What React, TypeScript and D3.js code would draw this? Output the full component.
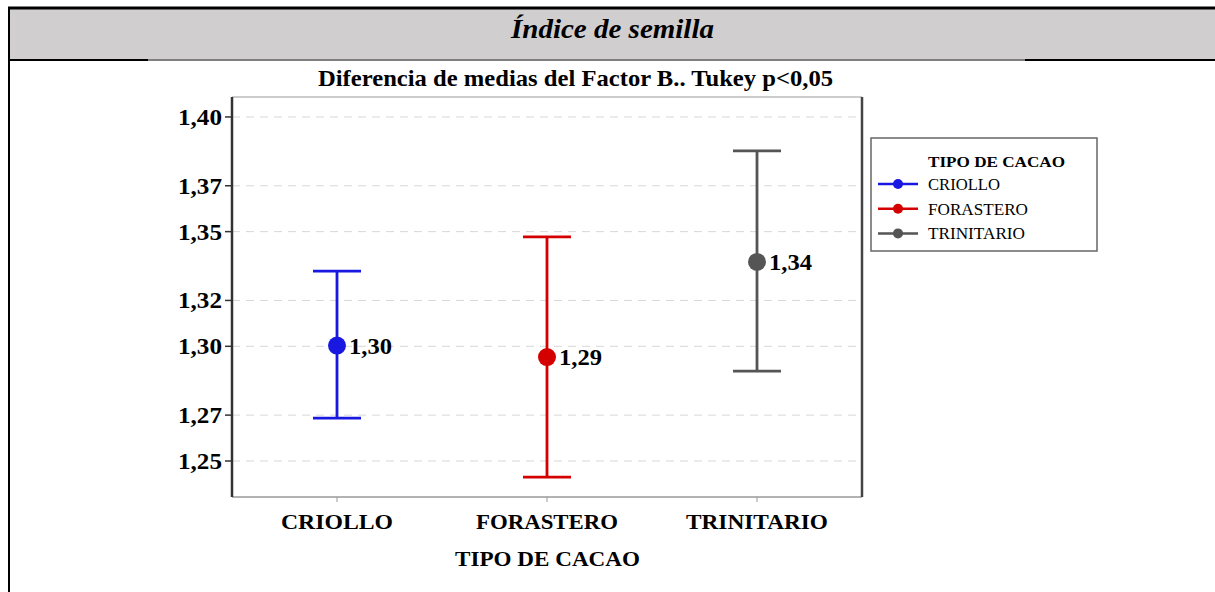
import React from "react";
import * as d3 from "d3";

const categories = ["CRIOLLO", "FORASTERO", "TRINITARIO"];
const means = [1.3003, 1.2953, 1.3368];
const lowers = [1.2687, 1.2430, 1.2892];
const uppers = [1.3328, 1.3477, 1.3852];
const meanLabels = ["1,30", "1,29", "1,34"];
const yTicks = [1.25, 1.27, 1.30, 1.32, 1.35, 1.37, 1.40];
const yTickLabels = ["1,25", "1,27", "1,30", "1,32", "1,35", "1,37", "1,40"];
const colors = ["#1818e0", "#d40000", "#555555"];

const W = 1215, H = 592;
const plot = { left: 232, right: 862, top: 97, bottom: 497 };
const serif = "'Liberation Serif', 'Times New Roman', serif";
const xLabelWidths = [112, 142, 142];
const legendWidths = [72, 100, 97];

export default function App() {
  const x = d3.scalePoint<string>().domain(categories).range([plot.left, plot.right]).padding(0.5);
  const y = d3.scaleLinear().domain([1.2343, 1.4087]).range([plot.bottom, plot.top]);
  const cap = 24;
  return (
    <svg width={W} height={H} style={{ position: "absolute", left: 0, top: 0, background: "#fff" }} fontFamily={serif}>
      {/* header */}
      <rect x={9} y={9} width={W - 9} height={50} fill="#d0cece" />
      <line x1={8} x2={W} y1={8} y2={8} stroke="#000" strokeWidth={3} />
      <line x1={9} x2={9} y1={7} y2={H} stroke="#000" strokeWidth={2} />
      <line x1={8} x2={148} y1={60} y2={60} stroke="#000" strokeWidth={2} />
      <line x1={1025} x2={W} y1={60} y2={60} stroke="#000" strokeWidth={2} />
      <line x1={148} x2={1025} y1={60} y2={60} stroke="#000" strokeWidth={1} />
      <text x={511} y={38} fontSize={28} fontStyle="italic" fontWeight="bold" textLength={203} lengthAdjust="spacingAndGlyphs">Índice de semilla</text>

      {/* title */}
      <text x={318} y={86} fontSize={23} fontWeight="bold" textLength={515} lengthAdjust="spacingAndGlyphs">Diferencia de medias del Factor B.. Tukey p&lt;0,05</text>

      {/* grid */}
      {yTicks.map((t, i) => (
        <line key={"g" + i} x1={plot.left} x2={plot.right} y1={y(t)} y2={y(t)} stroke="#d8d8d8" strokeDasharray="8,6" strokeWidth={1} />
      ))}
      {/* frame */}
      <line x1={plot.left} x2={plot.right} y1={plot.top} y2={plot.top} stroke="#bbb" strokeWidth={1.5} />
      <line x1={plot.left} x2={plot.right} y1={plot.bottom} y2={plot.bottom} stroke="#999" strokeWidth={1.5} />
      <line x1={plot.left} x2={plot.left} y1={plot.top} y2={plot.bottom} stroke="#333" strokeWidth={2.5} />
      <line x1={plot.right} x2={plot.right} y1={plot.top} y2={plot.bottom} stroke="#444" strokeWidth={2.5} />

      {/* y axis */}
      {yTicks.map((t, i) => (
        <g key={"y" + i}>
          <line x1={plot.left - 7} x2={plot.left} y1={y(t)} y2={y(t)} stroke="#333" strokeWidth={1.5} />
          <text x={178} y={y(t) + 8} fontSize={23} fontWeight="bold" textLength={44} lengthAdjust="spacingAndGlyphs">{yTickLabels[i]}</text>
        </g>
      ))}
      {/* x axis */}
      {categories.map((c, i) => (
        <g key={"x" + c}>
          <line x1={x(c)} x2={x(c)} y1={plot.bottom} y2={plot.bottom + 5} stroke="#999" strokeWidth={1} />
          <text x={x(c)! - xLabelWidths[i] / 2} y={529} fontSize={21} fontWeight="bold" textLength={xLabelWidths[i]} lengthAdjust="spacingAndGlyphs">{c}</text>
        </g>
      ))}
      <text x={455} y={566} fontSize={22} fontWeight="bold" textLength={185} lengthAdjust="spacingAndGlyphs">TIPO DE CACAO</text>

      {/* error bars */}
      {categories.map((c, i) => {
        const cx = x(c)!;
        return (
          <g key={"e" + c} stroke={colors[i]} strokeWidth={2.8}>
            <line x1={cx} x2={cx} y1={y(uppers[i])} y2={y(lowers[i])} />
            <line x1={cx - cap} x2={cx + cap} y1={y(uppers[i])} y2={y(uppers[i])} />
            <line x1={cx - cap} x2={cx + cap} y1={y(lowers[i])} y2={y(lowers[i])} />
            <circle cx={cx} cy={y(means[i])} r={9} fill={colors[i]} stroke="none" />
            <text x={cx + 12} y={y(means[i]) + 8} fontSize={23} fontWeight="bold" fill="#000" stroke="none" textLength={43} lengthAdjust="spacingAndGlyphs">{meanLabels[i]}</text>
          </g>
        );
      })}

      {/* legend */}
      <rect x={871} y={138} width={226} height={113} fill="#fff" stroke="#666" strokeWidth={1.5} />
      <text x={928} y={167} fontSize={15} fontWeight="bold" textLength={137} lengthAdjust="spacingAndGlyphs">TIPO DE CACAO</text>
      {categories.map((c, i) => {
        const ly = 184 + i * 24.7;
        return (
          <g key={"l" + c}>
            <line x1={878} x2={918} y1={ly} y2={ly} stroke={colors[i]} strokeWidth={2.5} />
            <circle cx={898} cy={ly} r={5} fill={colors[i]} />
            <text x={928} y={ly + 6} fontSize={16} textLength={legendWidths[i]} lengthAdjust="spacingAndGlyphs">{c}</text>
          </g>
        );
      })}
    </svg>
  );
}
